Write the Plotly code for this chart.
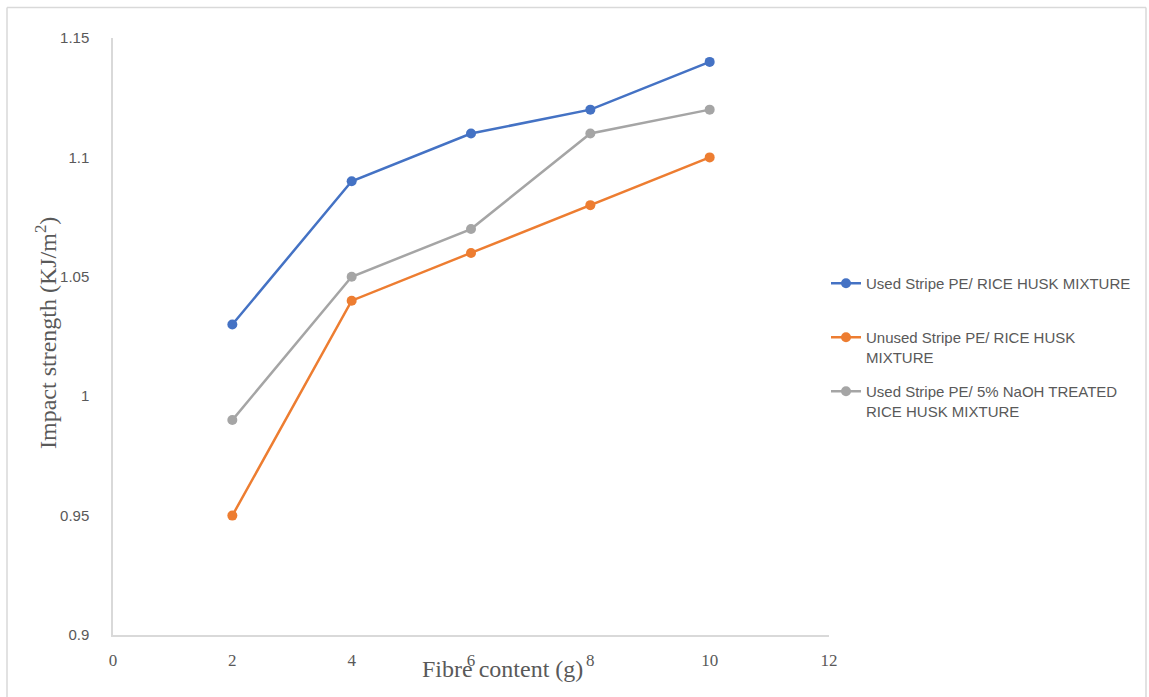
import plotly.graph_objects as go

# Fibre content (g) and measured impact strength (KJ/m²)
fibre_content = [2, 4, 6, 8, 10]
used_rice_husk = [1.03, 1.09, 1.11, 1.12, 1.14]
unused_rice_husk = [0.95, 1.04, 1.06, 1.08, 1.10]
used_naoh_rice_husk = [0.99, 1.05, 1.07, 1.11, 1.12]

series_names = [
    "Used Stripe PE/ RICE HUSK MIXTURE",
    "Unused Stripe PE/ RICE HUSK<br>MIXTURE",
    "Used Stripe PE/ 5% NaOH TREATED<br>RICE HUSK MIXTURE",
]
series_values = [used_rice_husk, unused_rice_husk, used_naoh_rice_husk]
series_colors = ["#4472C4", "#ED7D31", "#A5A5A5"]
legend_ids = ["legend", "legend2", "legend3"]

x_ticks = [0, 2, 4, 6, 8, 10, 12]
y_ticks = [0.9, 0.95, 1.0, 1.05, 1.1, 1.15]
y_tick_text = ["0.9", "0.95", "1", "1.05", "1.1", "1.15"]

W, H = 1149, 697
L, R, T, B = 113, 320, 38, 62

fig = go.Figure()
for name, vals, color, lg in zip(series_names, series_values, series_colors, legend_ids):
    fig.add_trace(go.Scatter(
        x=fibre_content, y=vals, name=name, mode="lines+markers",
        line=dict(color=color, width=2.5),
        marker=dict(color=color, size=10),
        legend=lg,
    ))

legend_font = dict(family="Liberation Sans, Arial, sans-serif", size=15, color="#595959")

def px_x(p):
    return (p - L) / (W - L - R)

def px_y(p):
    return (H - B - p) / (H - T - B)

legend_common = dict(
    font=legend_font, bgcolor="rgba(0,0,0,0)", borderwidth=0,
    xanchor="left", yanchor="top", valign="top", itemwidth=30,
)

grey_line = "#D9D9D9"
title_font = dict(family="Liberation Serif, Times New Roman, serif", size=24, color="#595959")

fig.update_layout(
    width=W, height=H,
    margin=dict(l=L, r=R, t=T, b=B),
    paper_bgcolor="white", plot_bgcolor="white",
    showlegend=True,
    legend=dict(x=px_x(826), y=px_y(267), **legend_common),
    legend2=dict(x=px_x(826), y=px_y(321), **legend_common),
    legend3=dict(x=px_x(826), y=px_y(375), **legend_common),
    xaxis=dict(
        range=[0, 12], tickvals=x_ticks, ticktext=[str(v) for v in x_ticks],
        showgrid=False, zeroline=False,
        showline=True, linecolor=grey_line, linewidth=1.5,
        ticks="", ticklabelstandoff=9,
        tickfont=dict(family="Liberation Serif, Times New Roman, serif", size=17, color="#595959"),
    ),
    yaxis=dict(
        range=[0.9, 1.15], tickvals=y_ticks, ticktext=y_tick_text,
        showgrid=False, zeroline=False,
        showline=True, linecolor=grey_line, linewidth=1.5,
        ticks="", ticklabelstandoff=19,
        tickfont=dict(family="Liberation Sans, Arial, sans-serif", size=15, color="#595959"),
    ),
    annotations=[
        dict(text="Fibre content (g)", xref="paper", yref="paper",
             x=px_x(502), y=px_y(669), xanchor="center", yanchor="middle",
             showarrow=False, font=title_font),
        dict(text="Impact strength (KJ/m<sup>2</sup>)", xref="paper", yref="paper",
             x=px_x(46), y=px_y(333), xanchor="center", yanchor="middle",
             textangle=-90, showarrow=False, font=title_font),
    ],
    shapes=[
        # outer chart-area border
        dict(type="line", xref="paper", yref="paper", x0=px_x(7), x1=px_x(7),
             y0=px_y(7.5), y1=px_y(700), line=dict(color=grey_line, width=1.5)),
        dict(type="line", xref="paper", yref="paper", x0=px_x(7), x1=px_x(1146),
             y0=px_y(7.5), y1=px_y(7.5), line=dict(color=grey_line, width=1.5)),
        dict(type="line", xref="paper", yref="paper", x0=px_x(1146), x1=px_x(1146),
             y0=px_y(7.5), y1=px_y(700), line=dict(color=grey_line, width=1.5)),
    ],
)

fig.write_html("out.html")
